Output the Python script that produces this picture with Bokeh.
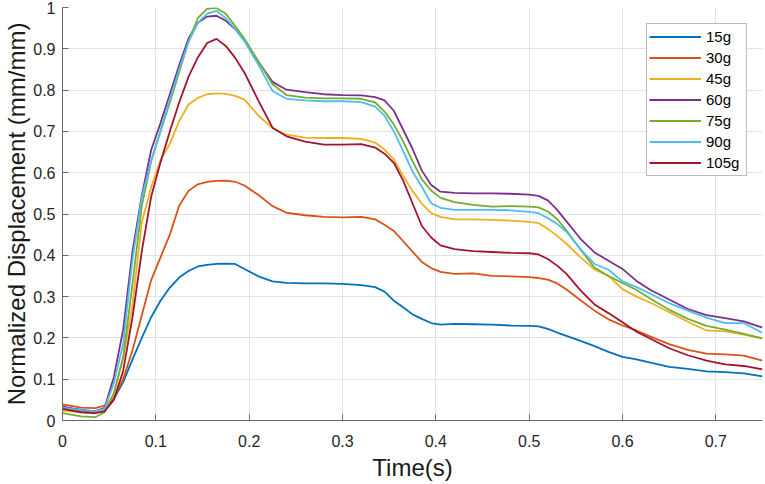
from bokeh.plotting import figure
from bokeh.models import FixedTicker, Legend, LegendItem, Range1d
from bokeh.embed import file_html
from bokeh.resources import INLINE

# time axis (s)
T = [0, 0.02, 0.035, 0.045, 0.055, 0.065, 0.075, 0.085, 0.095, 0.105,
     0.115, 0.125, 0.135, 0.145, 0.155, 0.165, 0.175, 0.185, 0.195, 0.21,
     0.225, 0.24, 0.26, 0.28, 0.3, 0.32, 0.335, 0.345, 0.355, 0.365,
     0.375, 0.385, 0.395, 0.405, 0.42, 0.44, 0.46, 0.48, 0.5, 0.51,
     0.52, 0.53, 0.54, 0.555, 0.57, 0.585, 0.6, 0.615, 0.63, 0.65,
     0.67, 0.69, 0.71, 0.73, 0.75]

D15 = [0.032, 0.026, 0.022, 0.03, 0.052, 0.093, 0.148, 0.2, 0.25, 0.29,
       0.322, 0.346, 0.362, 0.373, 0.377, 0.379, 0.38, 0.379, 0.367, 0.349,
       0.337, 0.333, 0.332, 0.332, 0.331, 0.328, 0.323, 0.312, 0.29, 0.274,
       0.257, 0.246, 0.236, 0.232, 0.234, 0.233, 0.232, 0.23, 0.229, 0.228,
       0.222, 0.213, 0.205, 0.193, 0.18, 0.166, 0.154, 0.148, 0.14, 0.13,
       0.125, 0.119, 0.117, 0.114, 0.107]

D30 = [0.039, 0.031, 0.03, 0.036, 0.053, 0.1, 0.17, 0.255, 0.34, 0.395,
       0.45, 0.52, 0.556, 0.572, 0.578, 0.58, 0.581, 0.578, 0.569, 0.546,
       0.519, 0.503, 0.497, 0.493, 0.492, 0.493, 0.487, 0.474, 0.459, 0.434,
       0.409, 0.384, 0.369, 0.36, 0.355, 0.356, 0.35, 0.349, 0.347, 0.345,
       0.341, 0.332, 0.317, 0.291, 0.266, 0.245, 0.23, 0.218, 0.203, 0.185,
       0.171, 0.162, 0.16, 0.157, 0.145]

D45 = [0.024, 0.02, 0.018, 0.025, 0.065, 0.15, 0.28, 0.48, 0.565, 0.63,
       0.67, 0.725, 0.765, 0.781, 0.79, 0.792, 0.791, 0.786, 0.777, 0.738,
       0.708, 0.692, 0.685, 0.684, 0.684, 0.682, 0.673, 0.656, 0.632, 0.592,
       0.556, 0.525, 0.502, 0.493, 0.487, 0.487, 0.486, 0.484, 0.481, 0.478,
       0.464, 0.447, 0.428, 0.395, 0.366, 0.35, 0.318, 0.3, 0.285, 0.262,
       0.239, 0.218, 0.216, 0.208, 0.198]

D60 = [0.034, 0.024, 0.022, 0.03, 0.105, 0.22, 0.41, 0.545, 0.655, 0.72,
       0.79, 0.86, 0.925, 0.963, 0.978, 0.98, 0.968, 0.948, 0.92, 0.868,
       0.82, 0.801, 0.795, 0.79, 0.788, 0.787, 0.783, 0.775, 0.75, 0.704,
       0.658, 0.605, 0.57, 0.554, 0.551, 0.55, 0.55, 0.549, 0.547, 0.544,
       0.533, 0.51, 0.482, 0.44, 0.407, 0.387, 0.367, 0.338, 0.316, 0.293,
       0.27, 0.255, 0.248, 0.24, 0.225]

D75 = [0.018, 0.01, 0.008, 0.02, 0.065, 0.154, 0.33, 0.52, 0.627, 0.7,
       0.77, 0.843, 0.918, 0.974, 0.997, 0.999, 0.985, 0.955, 0.924, 0.869,
       0.814, 0.788, 0.782, 0.78, 0.78, 0.779, 0.77, 0.748, 0.717, 0.676,
       0.628, 0.584, 0.557, 0.539, 0.529, 0.522, 0.518, 0.519, 0.518, 0.516,
       0.506, 0.488, 0.46, 0.414, 0.37, 0.35, 0.333, 0.316, 0.295, 0.268,
       0.246, 0.229, 0.22, 0.21, 0.199]

D90 = [0.031, 0.025, 0.022, 0.028, 0.09, 0.186, 0.39, 0.54, 0.63, 0.703,
       0.778, 0.85, 0.916, 0.963, 0.985, 0.992, 0.974, 0.948, 0.918, 0.861,
       0.798, 0.779, 0.775, 0.773, 0.773, 0.771, 0.76, 0.738, 0.7, 0.652,
       0.603, 0.566, 0.526, 0.515, 0.51, 0.51, 0.51, 0.509, 0.505, 0.502,
       0.49, 0.476, 0.457, 0.415, 0.379, 0.365, 0.337, 0.323, 0.307, 0.284,
       0.266, 0.249, 0.236, 0.236, 0.212]

D105 = [0.028, 0.02, 0.018, 0.022, 0.05, 0.12, 0.25, 0.41, 0.542, 0.625,
        0.7, 0.77, 0.832, 0.879, 0.914, 0.924, 0.907, 0.878, 0.842, 0.774,
        0.709, 0.688, 0.675, 0.668, 0.668, 0.669, 0.661, 0.646, 0.624, 0.581,
        0.526, 0.471, 0.443, 0.424, 0.415, 0.41, 0.408, 0.406, 0.405, 0.402,
        0.391, 0.375, 0.355, 0.315, 0.281, 0.26, 0.238, 0.215, 0.198, 0.175,
        0.158, 0.145, 0.136, 0.132, 0.124]

SERIES_NAMES = ["15g", "30g", "45g", "60g", "75g", "90g", "105g"]
SERIES_VALUES = [D15, D30, D45, D60, D75, D90, D105]
COLORS = ["#0072BD", "#D95319", "#EDB120", "#7E2F8E", "#77AC30", "#4DBEEE", "#A2142F"]

X_TICKS = [0, 0.1, 0.2, 0.3, 0.4, 0.5, 0.6, 0.7]
X_LABELS = ["0", "0.1", "0.2", "0.3", "0.4", "0.5", "0.6", "0.7"]
Y_TICKS = [0, 0.1, 0.2, 0.3, 0.4, 0.5, 0.6, 0.7, 0.8, 0.9, 1]
Y_LABELS = ["0", "0.1", "0.2", "0.3", "0.4", "0.5", "0.6", "0.7", "0.8", "0.9", "1"]

FONT = "Liberation Sans"

p = figure(width=765, height=484, x_range=Range1d(0, 0.75), y_range=Range1d(0, 1),
           output_backend="svg", toolbar_location=None,
           min_border_left=62, min_border_right=3, min_border_top=7, min_border_bottom=64)
p.outline_line_color = None
p.background_fill_color = "white"
p.border_fill_color = "white"

p.xaxis.ticker = FixedTicker(ticks=X_TICKS)
p.yaxis.ticker = FixedTicker(ticks=Y_TICKS)
p.xaxis.major_label_overrides = dict(zip(X_TICKS, X_LABELS))
p.yaxis.major_label_overrides = dict(zip(Y_TICKS, Y_LABELS))

for ax in (p.xaxis, p.yaxis):
    ax.axis_line_color = "#6b6b6b"
    ax.axis_line_width = 1
    ax.major_tick_line_color = "#6b6b6b"
    ax.major_tick_in = 6
    ax.major_tick_out = 0
    ax.minor_tick_line_color = None
    ax.major_label_text_font = FONT
    ax.major_label_text_font_size = "16px"
    ax.major_label_text_color = "#262626"
    ax.axis_label_text_font = FONT
    ax.axis_label_text_font_size = "24px"
    ax.axis_label_text_font_style = "normal"
    ax.axis_label_text_color = "#1a1a1a"

p.xaxis.axis_label = "Time(s)"
p.yaxis.axis_label = "Normalized Displacement (mm/mm)"
p.xaxis.major_label_standoff = 14
p.xaxis.axis_label_standoff = 4
p.yaxis.major_label_standoff = 7
p.yaxis.axis_label_standoff = 0

p.xgrid.grid_line_color = "#e3e3e3"
p.ygrid.grid_line_color = "#e3e3e3"
p.xgrid.grid_line_width = 1
p.ygrid.grid_line_width = 1

items = []
for name, vals, col in zip(SERIES_NAMES, SERIES_VALUES, COLORS):
    r = p.line(T, vals, line_color=col, line_width=1.8)
    items.append(LegendItem(label=name, renderers=[r]))

legend = Legend(items=items, location=(584, 244))
legend.glyph_width = 52
legend.glyph_height = 21
legend.label_height = 21
legend.label_width = 38
legend.spacing = 0
legend.padding = 2
legend.margin = 0
legend.label_standoff = 5
legend.label_text_font = FONT
legend.label_text_font_size = "15px"
legend.label_text_color = "#000000"
legend.border_line_color = "#7a7a7a"
legend.border_line_width = 1
legend.background_fill_color = "white"
legend.background_fill_alpha = 1
p.add_layout(legend)

open("out.html", "w").write(file_html(p, INLINE))
